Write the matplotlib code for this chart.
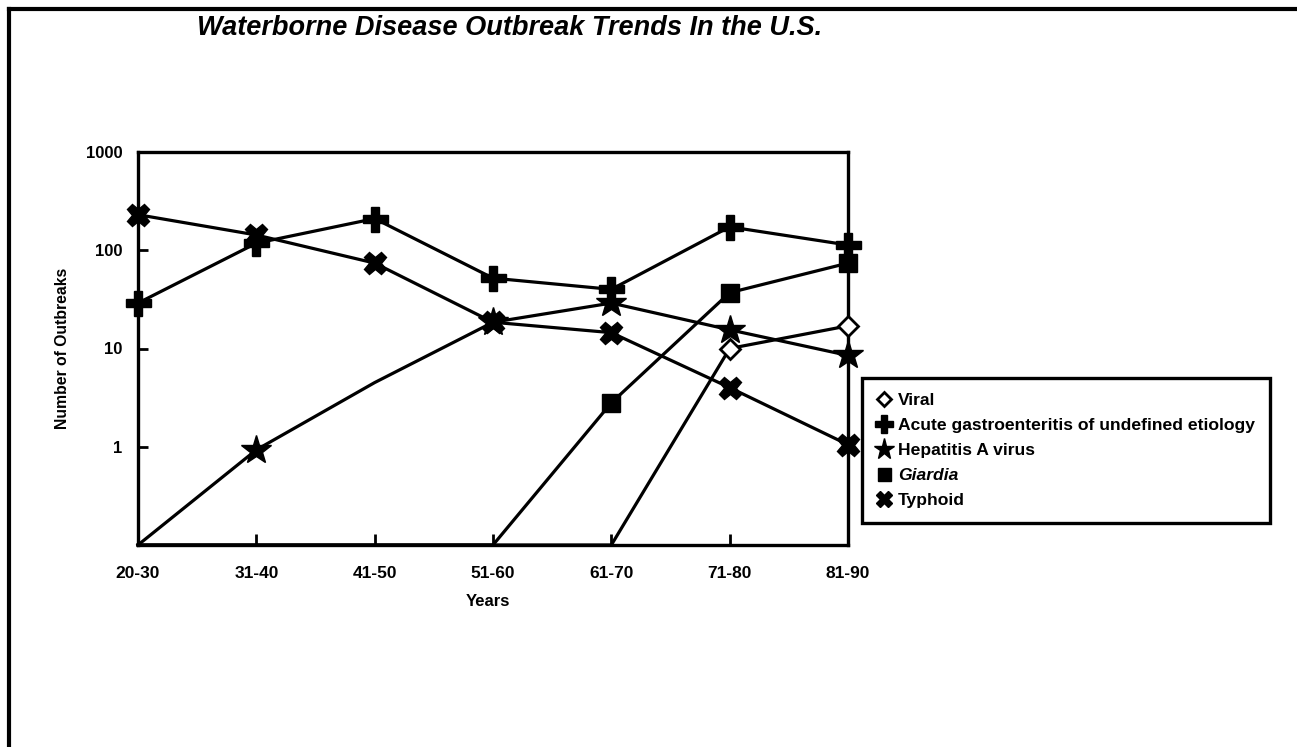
"""Waterborne disease outbreak trends in the U.S. (log-scale line chart)."""

import matplotlib

matplotlib.use("Agg")
import matplotlib.pyplot as plt
from matplotlib.lines import Line2D
import numpy as np

plt.rcParams["font.family"] = ["Liberation Sans", "DejaVu Sans"]

# decades on the x axis
years = ["20-30", "31-40", "41-50", "51-60", "61-70", "71-80", "81-90"]

# number of outbreaks per decade (0 = none, drawn at the bottom of the axis)
viral = [0, 0, 0, 0, 0, 10, 17]
acute_gi = [29, 118, 210, 52, 40, 173, 113]
hepatitis_a = [0, 0.93, 4.5, 18.5, 29, 15.5, 8.5]
giardia = [0, 0, 0, 0, 2.8, 37, 74]
typhoid = [230, 143, 74, 18.5, 14.5, 4.0, 1.05]

FLOOR = 0.1
LW = 2.3

series = [
    ("Viral", viral, dict(marker="D", ms=10, mfc="white", mew=2.0)),
    ("Acute gastroenteritis of undefined etiology", acute_gi, dict(marker="P", ms=18)),
    ("Hepatitis A virus", hepatitis_a, dict(marker="*", ms=22)),
    ("Giardia", giardia, dict(marker="s", ms=13)),
    ("Typhoid", typhoid, dict(marker="X", ms=16)),
]
# the scanned chart shows no marker on the 41-50 hepatitis point
no_marker = {"Hepatitis A virus": [2]}

fig = plt.figure(figsize=(12.97, 7.47), dpi=100)
ax = fig.add_axes([138 / 1297, 1 - 545 / 747, 710 / 1297, 393 / 747])

x = np.arange(len(years))
for name, vals, style in series:
    vals = np.asarray(vals, dtype=float)
    y = np.where(vals > 0, vals, FLOOR)
    marks = [i for i in range(len(vals)) if vals[i] > 0 and i not in no_marker.get(name, [])]
    ax.plot(x, y, color="black", lw=LW, markevery=marks, mec="black",
            clip_on=False, **({"mfc": "black"} | style), zorder=3)

ax.set_yscale("log")
ax.set_ylim(FLOOR, 1000)
ax.set_xlim(0, len(years) - 1)
ax.set_yticks([1, 10, 100, 1000])
ax.set_yticklabels(["1", "10", "100", "1000"])
ax.yaxis.set_minor_locator(matplotlib.ticker.NullLocator())
ax.set_xticks(x)
ax.set_xticklabels(years)

ax.tick_params(axis="y", direction="in", length=7, width=2, pad=11,
               labelsize=12, right=False)
ax.tick_params(axis="x", direction="in", length=8, width=2, pad=15,
               labelsize=12.5, top=False)
for lab in ax.get_xticklabels() + ax.get_yticklabels():
    lab.set_fontweight("bold")
for sp in ax.spines.values():
    sp.set_linewidth(2.4)

ax.set_xlabel("Years", fontsize=12, fontweight="bold", va="center")
ax.xaxis.set_label_coords(0.493, -0.145)
ax.set_ylabel("Number of Outbreaks", fontsize=11.3, fontweight="bold", va="center")
ax.yaxis.set_label_coords(-0.106, 0.5)

fig.text(197 / 1297, 1 - 28 / 747, "Waterborne Disease Outbreak Trends In the U.S.",
         fontsize=19.5, fontweight="heavy", style="italic", ha="left", va="center")

handles = []
for name, vals, style in series:
    st = dict(style)
    st["ms"] = st["ms"] * 0.72
    handles.append(Line2D([], [], ls="none", color="black", mec="black",
                          **({"mfc": "black"} | st)))
leg = fig.legend(handles, [s[0] for s in series], loc="upper left",
                 bbox_to_anchor=(862 / 1297, 1 - 378 / 747), borderaxespad=0,
                 fancybox=False, framealpha=1, edgecolor="black",
                 prop={"size": 12.6, "weight": "bold"}, handlelength=0.8,
                 handletextpad=0.4, labelspacing=0.55, borderpad=0.85)
leg.get_frame().set_linewidth(2.4)
leg.get_texts()[3].set_style("italic")

# page border from the scanned sheet (top and left edges)
fig.add_artist(Line2D([9 / 1297, 1], [1 - 9 / 747] * 2, color="black", lw=3))
fig.add_artist(Line2D([9 / 1297] * 2, [0, 1 - 9 / 747], color="black", lw=3))

fig.savefig("out.png", dpi=100)
